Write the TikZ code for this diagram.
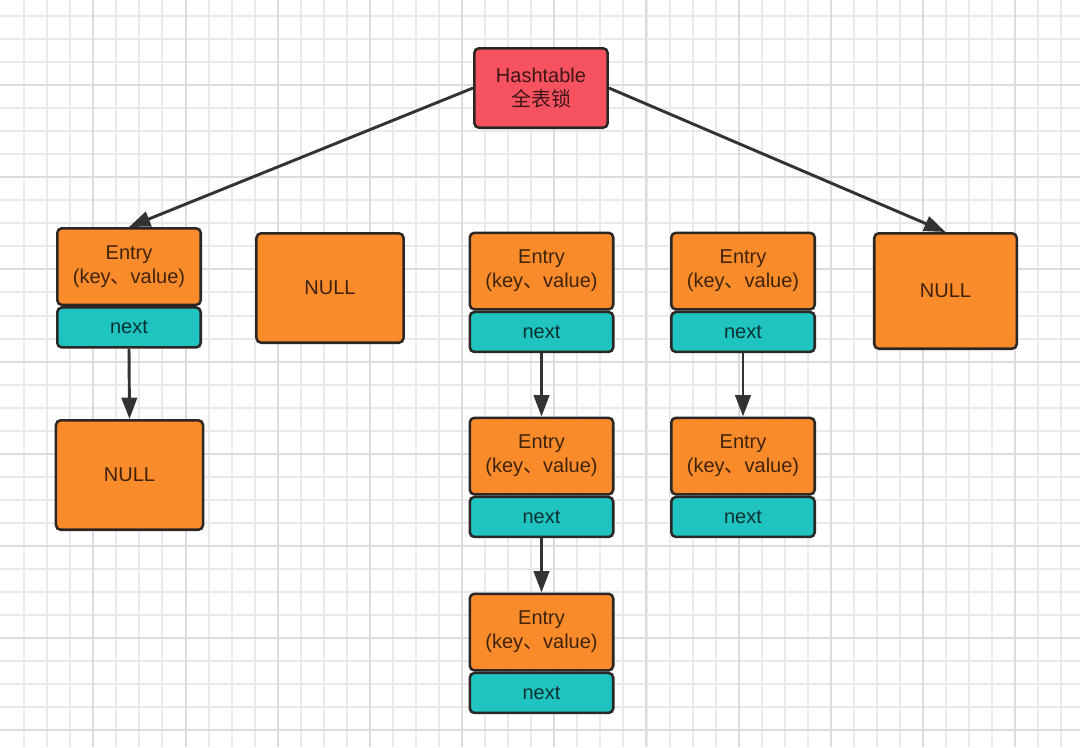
\documentclass[tikz,border=0pt]{standalone}
\usepackage{fontspec}
\setmainfont{Liberation Sans}
\newfontfamily\cjk{Noto Sans CJK SC}
\usetikzlibrary{arrows.meta}
\definecolor{hred}{HTML}{F7525F}
\definecolor{horange}{HTML}{FA8B2A}
\definecolor{hteal}{HTML}{1FC3BF}
\definecolor{hborder}{HTML}{2B2724}
\definecolor{gminor}{HTML}{EAEAED}
\definecolor{gmajor}{HTML}{DCDCDF}
\definecolor{harrow}{HTML}{333333}
\begin{document}
\begin{tikzpicture}[x=0.75pt,y=-0.75pt,
  box/.style={draw=hborder,line width=1.9pt,rounded corners=3.5pt,inner sep=0pt,align=center,
    text=black,text opacity=0.75,font=\fontsize{15}{18}\selectfont},
  headbox/.style={box,fill=hred,minimum width=100pt,minimum height=59.6pt},
  entrybox/.style={box,fill=horange,minimum width=107.6pt,minimum height=57.5pt},
  nextbox/.style={box,fill=hteal,minimum width=107.6pt,minimum height=30pt,anchor=north},
  nullbox/.style={box,fill=horange,minimum width=110.3pt,minimum height=82.1pt},
  conn/.style={draw=harrow,line width=2.2pt,-{Triangle[length=16pt,width=11.5pt]}},
  gridminor/.style={draw=gminor,line width=1.1pt},
  gridmajor/.style={draw=gmajor,line width=1.3pt}
]
\useasboundingbox (0,0) rectangle (1080,747);
\fill[white] (0,0) rectangle (1080,747);
\begin{scope}
\clip (0,0) rectangle (1080,747);
\foreach \i in {0,...,45}{\pgfmathsetmacro\xx{round(24.15+23.05*\i)}\draw[gridminor] (\xx,0) -- (\xx,747);}
\foreach \i in {0,...,31}{\pgfmathsetmacro\yy{round(15.85+23.05*\i)}\draw[gridminor] (0,\yy) -- (1080,\yy);}
\foreach \i in {0,...,11}{\pgfmathsetmacro\xx{round(93.3+92.2*\i)}\draw[gridmajor] (\xx,0) -- (\xx,747);}
\foreach \i in {0,...,7}{\pgfmathsetmacro\yy{round(85+92.2*\i)}\draw[gridmajor] (0,\yy) -- (1080,\yy);}
\end{scope}

\node[headbox] (ht) at (541,88) {Hashtable\\{\cjk 全表锁}};

\node[entrybox] (e1) at (129,266.6) {Entry\\(key{\cjk 、}value)};
\node[nextbox] (e1n) at (e1.south) {next};
\node[nullbox] (null1) at (330,288) {NULL};
\node[entrybox] (e3a) at (541.5,271.1) {Entry\\(key{\cjk 、}value)};
\node[nextbox] (e3an) at (e3a.south) {next};
\node[entrybox] (e4a) at (743,271.1) {Entry\\(key{\cjk 、}value)};
\node[nextbox] (e4an) at (e4a.south) {next};
\node[nullbox,minimum width=106.9pt,minimum height=86.6pt] (null2) at (945.5,291) {NULL};

\node[nullbox] (null3) at (129.5,475) {NULL};
\node[entrybox] (e3b) at (541.5,456.1) {Entry\\(key{\cjk 、}value)};
\node[nextbox] (e3bn) at (e3b.south) {next};
\node[entrybox] (e4b) at (743,456.1) {Entry\\(key{\cjk 、}value)};
\node[nextbox] (e4bn) at (e4b.south) {next};
\node[entrybox] (e3c) at (541.5,632.1) {Entry\\(key{\cjk 、}value)};
\node[nextbox] (e3cn) at (e3c.south) {next};

\draw[conn] (ht.west) -- (e1.north);
\draw[conn] (ht.east) -- (null2.north);
\draw[conn] (e1n.south) -- (null3.north);
\draw[conn] (e3an.south) -- (e3b.north);
\draw[conn] (e3bn.south) -- (e3c.north);
\draw[conn] (e4an.south) -- (e4b.north);
\end{tikzpicture}
\end{document}
